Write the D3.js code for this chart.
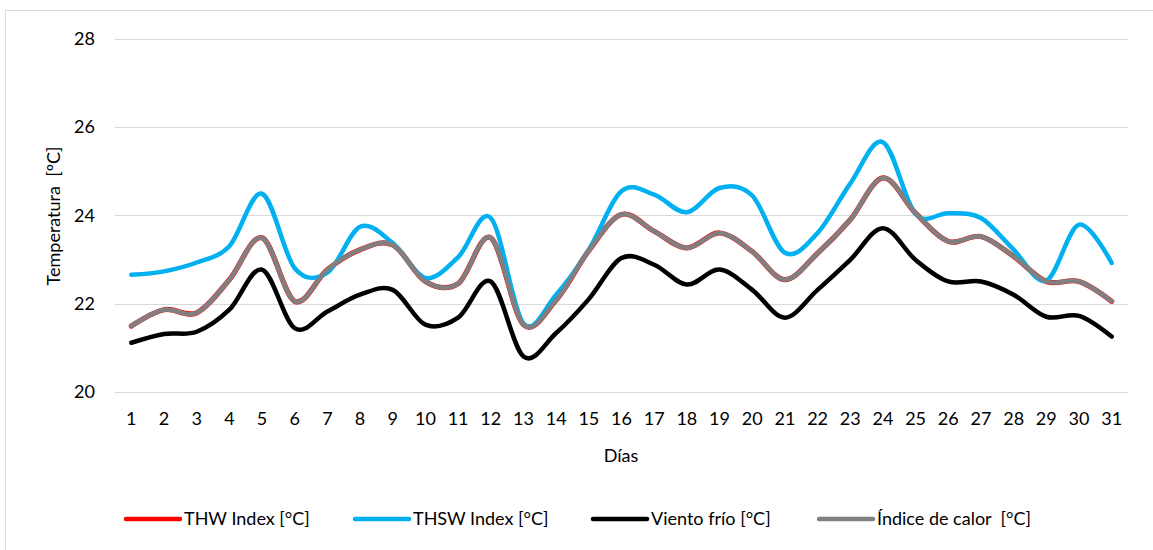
<!DOCTYPE html>
<html>
<head>
<meta charset="utf-8">
<script src="https://cdn.jsdelivr.net/npm/d3@7"></script>
<style>
  body { margin: 0; background: #fff; }
  svg text { font-family: Lato, "Open Sans", sans-serif; fill: #000; white-space: pre; }
  .axis .domain { display: none; }
  .axis text { font-size: 18px; }
</style>
</head>
<body>
<svg width="1153" height="550"></svg>
<script>
// day numbers on x axis
var days = d3.range(1, 32);
var yTicks = [20, 22, 24, 26, 28];

// series
var thw = [21.49, 21.86, 21.79, 22.54, 23.49, 22.05, 22.77, 23.22, 23.33, 22.5, 22.45,
    23.49, 21.52, 22.08, 23.2, 24.02, 23.64, 23.26, 23.6, 23.18, 22.54,
    23.14, 23.9, 24.85, 24.05, 23.41, 23.52, 23.07, 22.5, 22.5, 22.05];
var thsw = [22.65, 22.73, 22.93, 23.3, 24.49, 22.8, 22.7, 23.74, 23.37, 22.58, 23.05,
    23.94, 21.55, 22.2, 23.22, 24.55, 24.47, 24.07, 24.62, 24.45, 23.15,
    23.6, 24.72, 25.66, 24.03, 24.05, 23.94, 23.22, 22.52, 23.79, 22.92];
var windChill = [21.11, 21.31, 21.36, 21.86, 22.77, 21.44, 21.82, 22.2, 22.31, 21.52, 21.68,
    22.5, 20.8, 21.33, 22.1, 23.03, 22.88, 22.43, 22.77, 22.31, 21.68,
    22.31, 22.99, 23.71, 22.99, 22.5, 22.5, 22.2, 21.7, 21.72, 21.25];
var heatIndex = thw.slice();

var series = [
    {name: "THW Index [°C]", values: thw, color: "#ff0000", width: 5.2},
    {name: "THSW Index [°C]", values: thsw, color: "#00b0f0", width: 4.5},
    {name: "Viento frío [°C]", values: windChill, color: "#000000", width: 4.5},
    {name: "Índice de calor  [°C]", values: heatIndex, color: "#808080", width: 4.5}
];

var svg = d3.select("svg");

// outer chart frame (only top and left visible)
svg.append("rect")
    .attr("x", 5.5).attr("y", 10.5)
    .attr("width", 1200).attr("height", 600)
    .attr("fill", "none")
    .attr("stroke", "#d9d9d9");

var x = d3.scaleBand().domain(days).range([115, 1128]);
var y = d3.scaleLinear().domain([20, 28]).range([391.7, 39]);

function cx(i) { return x(days[i]) + x.bandwidth() / 2; }

// gridlines
svg.append("g")
    .selectAll("line")
    .data(yTicks)
    .enter().append("line")
    .attr("x1", 115).attr("x2", 1128)
    .attr("y1", function (d) { return Math.round(y(d)) + 0.5; })
    .attr("y2", function (d) { return Math.round(y(d)) + 0.5; })
    .attr("stroke", "#d9d9d9")
    .attr("stroke-width", 1);

svg.append("g")
    .attr("class", "axis")
    .attr("transform", "translate(115,0)")
    .call(d3.axisLeft(y).tickValues(yTicks).tickSize(0).tickPadding(20));

svg.append("g")
    .attr("class", "axis")
    .attr("transform", "translate(0,392)")
    .call(d3.axisBottom(x).tickSize(0).tickPadding(20));

// axis titles
svg.append("text")
    .attr("x", 621).attr("y", 462)
    .attr("text-anchor", "middle")
    .style("font-size", "18px")
    .text("Días");

svg.append("text")
    .attr("transform", "translate(54,216) rotate(-90)")
    .attr("text-anchor", "middle")
    .attr("dy", "0.35em")
    .style("font-size", "18px")
    .text("Temperatura  [ºC]");

var line = d3.line()
    .curve(d3.curveCardinal.tension(0))
    .x(function (d, i) { return cx(i); })
    .y(function (d) { return y(d); });

svg.append("g")
    .selectAll("path")
    .data(series)
    .enter().append("path")
    .attr("d", function (d) { return line(d.values); })
    .attr("fill", "none")
    .attr("stroke", function (d) { return d.color; })
    .attr("stroke-width", function (d) { return d.width; })
    .attr("stroke-linecap", "round")
    .attr("stroke-linejoin", "round");

// legend
var legendX = [126, 355, 593, 819];
var lg = svg.append("g")
    .selectAll("g")
    .data(series)
    .enter().append("g")
    .attr("transform", function (d, i) { return "translate(" + legendX[i] + ",519)"; });

lg.append("line")
    .attr("x1", 0).attr("x2", 54)
    .attr("stroke", function (d) { return d.color; })
    .attr("stroke-width", 4.5)
    .attr("stroke-linecap", "round");

lg.append("text")
    .attr("x", 58)
    .attr("dy", "0.35em")
    .style("font-size", "18px")
    .text(function (d) { return d.name; });
</script>
</body>
</html>
